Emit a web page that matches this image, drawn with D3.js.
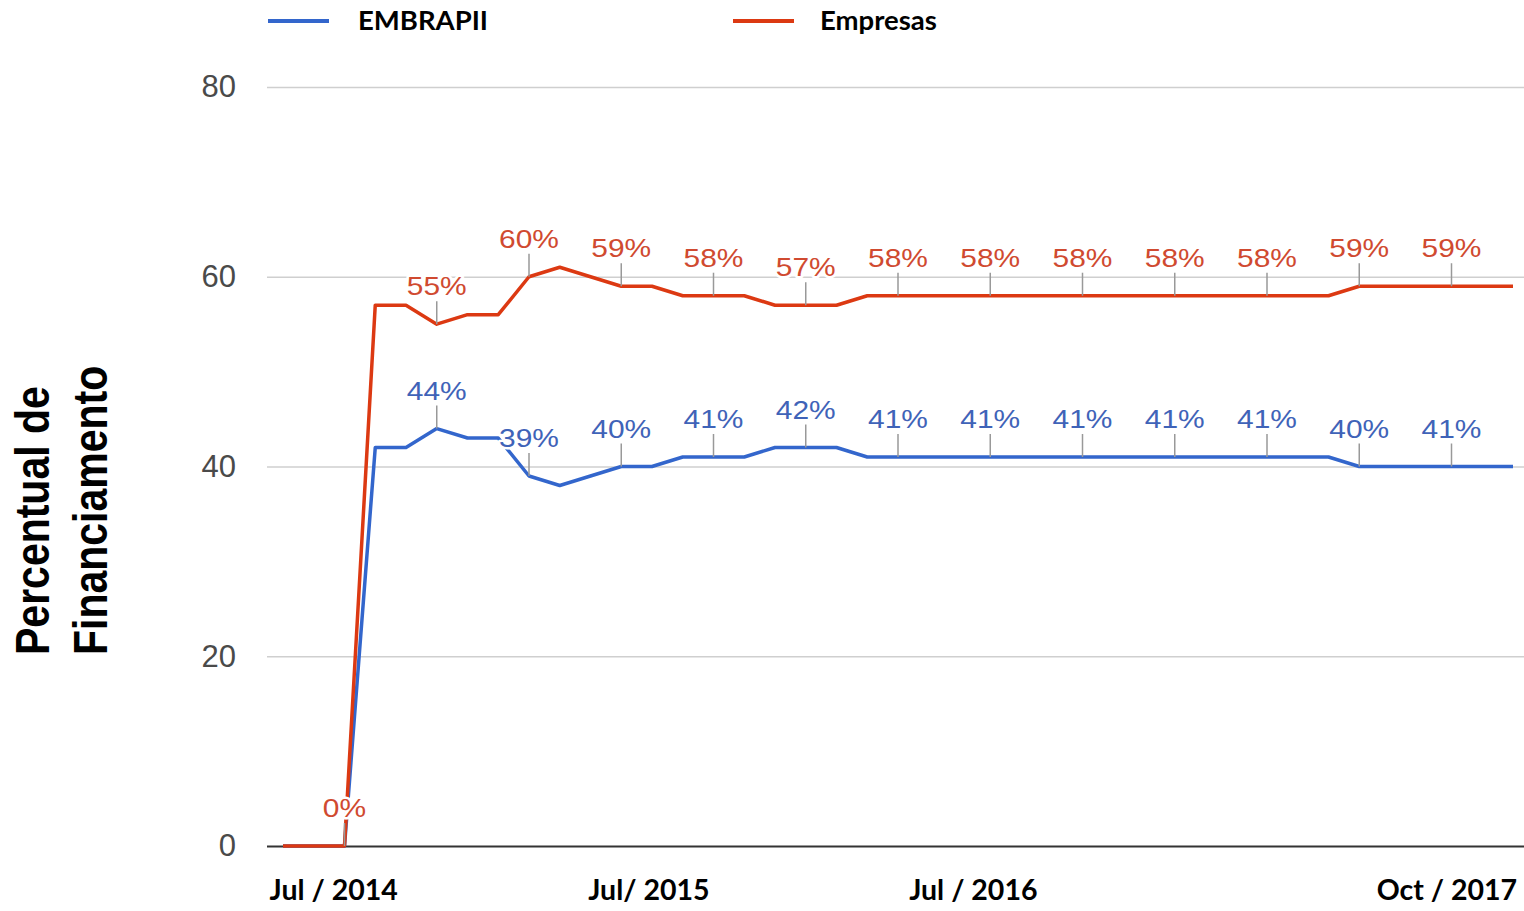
<!DOCTYPE html>
<html>
<head>
<meta charset="utf-8">
<script src="https://cdnjs.cloudflare.com/ajax/libs/d3/7.8.5/d3.min.js"></script>
<style>
  body { margin: 0; background: #fff; }
  svg { display: block; }
</style>
</head>
<body>
<script>
// chart size
var width = 1524,
    height = 911;

// monthly observations, index 0..40
var embrapii = [0, 0, 0, 42, 42, 44, 43, 43, 39, 38,
                39, 40, 40, 41, 41, 41, 42, 42, 42, 41,
                41, 41, 41, 41, 41, 41, 41, 41, 41, 41,
                41, 41, 41, 41, 41, 40, 40, 40, 40, 40, 40];
var empresas = [0, 0, 0, 57, 57, 55, 56, 56, 60, 61,
                60, 59, 59, 58, 58, 58, 57, 57, 57, 58,
                58, 58, 58, 58, 58, 58, 58, 58, 58, 58,
                58, 58, 58, 58, 58, 59, 59, 59, 59, 59, 59];

// annotations (index of the point, text shown)
var embrapiiNotes = [[5, '44%'], [8, '39%'], [11, '40%'], [14, '41%'], [17, '42%'], [20, '41%'],
                     [23, '41%'], [26, '41%'], [29, '41%'], [32, '41%'], [35, '40%'], [38, '41%']];
var empresasNotes = [[2, '0%'], [5, '55%'], [8, '60%'], [11, '59%'], [14, '58%'], [17, '57%'], [20, '58%'],
                     [23, '58%'], [26, '58%'], [29, '58%'], [32, '58%'], [35, '59%'], [38, '59%']];

// axis labels
var yTicks = [0, 20, 40, 60, 80];
var xTickLabels = ['Jul / 2014', 'Jul/ 2015', 'Jul / 2016', 'Oct / 2017'];
var xTickIndex = [1.65, 11.9, 22.45, 37.85];

var blue = '#3366cc',
    red = '#dc3912';

var x = d3.scaleLinear()
    .domain([0, 40])
    .range([283, 1513]);

var y = d3.scaleLinear()
    .domain([0, 80])
    .range([846, 87]);

var svg = d3.select('body')
    .append('svg')
    .attr('width', width)
    .attr('height', height);

// gridlines + y labels
var yAxis = svg.append('g')
    .attr('transform', 'translate(267,0)')
    .call(d3.axisLeft(y).tickValues(yTicks).tickSize(-(width - 267)).tickPadding(31));
yAxis.select('.domain').remove();
yAxis.selectAll('.tick line')
    .attr('stroke', function(d) { return d === 0 ? '#333' : '#cfcfcf'; })
    .attr('stroke-width', function(d) { return d === 0 ? 2 : 1.5; });
yAxis.selectAll('.tick text')
    .attr('fill', '#4a4a4a')
    .attr('font-family', '"Liberation Sans", Arial, sans-serif')
    .attr('font-size', 31);

// x labels
svg.append('g').selectAll('text')
    .data(xTickLabels)
    .enter().append('text')
        .attr('x', function(d, i) { return x(xTickIndex[i]); })
        .attr('y', 900)
        .attr('text-anchor', 'middle')
        .attr('font-family', 'Lato, "Open Sans", sans-serif')
        .attr('font-weight', 'bold')
        .attr('font-size', 28.5)
        .attr('fill', '#000')
        .text(function(d) { return d; });

// y title
var title = svg.append('text')
    .attr('transform', 'translate(0,655) scale(1.15,1) rotate(-90)')
    .attr('font-family', '"Liberation Sans", Arial, sans-serif')
    .attr('font-weight', 'bold')
    .attr('font-size', 41)
    .attr('fill', '#000');
title.append('tspan').attr('x', 0).attr('y', 43).text('Percentual de');
title.append('tspan').attr('x', 0).attr('y', 93).text('Financiamento');

// lines
var line = d3.line()
    .x(function(d, i) { return x(i); })
    .y(function(d) { return y(d); });

svg.append('path')
    .datum(embrapii)
    .attr('fill', 'none')
    .attr('stroke', blue)
    .attr('stroke-width', 3.5)
    .attr('stroke-linejoin', 'round')
    .attr('d', line);

svg.append('path')
    .datum(empresas)
    .attr('fill', 'none')
    .attr('stroke', red)
    .attr('stroke-width', 3.5)
    .attr('stroke-linejoin', 'round')
    .attr('d', line);

// annotations: little stem + label with white halo
function annotate(notes, values, color) {
    var g = svg.append('g');
    g.selectAll('line')
        .data(notes)
        .enter().append('line')
            .attr('x1', function(d) { return x(d[0]); })
            .attr('x2', function(d) { return x(d[0]); })
            .attr('y1', function(d) { return y(values[d[0]]); })
            .attr('y2', function(d) { return y(values[d[0]]) - 23; })
            .attr('stroke', '#999')
            .attr('stroke-width', 1.5);
    g.selectAll('text')
        .data(notes)
        .enter().append('text')
            .attr('transform', function(d) {
                return 'translate(' + x(d[0]) + ',' + (y(values[d[0]]) - 29) + ') scale(1.13,1)';
            })
            .attr('text-anchor', 'middle')
            .attr('font-family', '"Liberation Sans", Arial, sans-serif')
            .attr('font-size', 26.5)
            .attr('fill', color)
            .attr('stroke', '#fff')
            .attr('stroke-width', 5)
            .attr('stroke-linejoin', 'round')
            .attr('paint-order', 'stroke')
            .text(function(d) { return d[1]; });
}
annotate(embrapiiNotes, embrapii, '#3f63b8');
annotate(empresasNotes, empresas, '#d04a30');

// legend
var legend = [['EMBRAPII', blue, 268], ['Empresas', red, 733]];
var lg = svg.append('g').selectAll('g')
    .data(legend)
    .enter().append('g')
        .attr('transform', function(d) { return 'translate(' + d[2] + ',21)'; });
lg.append('line')
    .attr('x1', 0).attr('x2', 61)
    .attr('stroke', function(d) { return d[1]; })
    .attr('stroke-width', 4);
lg.append('text')
    .attr('x', function(d, i) { return i ? 87 : 90; })
    .attr('y', 9)
    .attr('font-family', 'Lato, "Open Sans", sans-serif')
    .attr('font-weight', 'bold')
    .attr('font-size', 27.5)
    .attr('fill', '#000')
    .text(function(d) { return d[0]; });
</script>
</body>
</html>
